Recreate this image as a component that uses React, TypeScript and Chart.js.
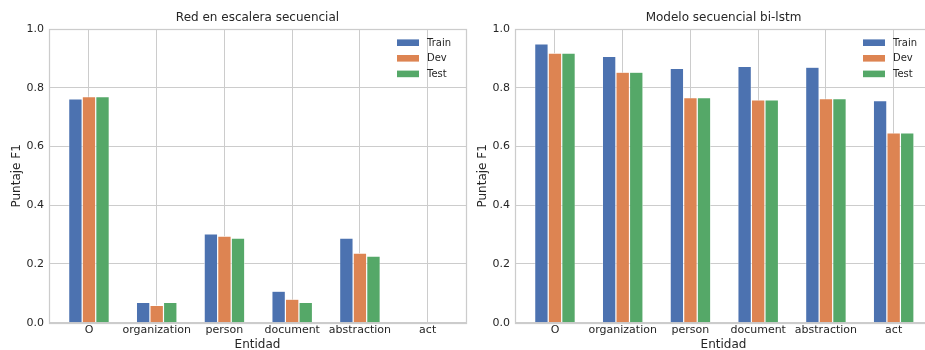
import React, { useEffect, useRef } from 'react';
import { Chart, registerables } from 'chart.js';

Chart.register(...registerables);

const categories = ['O', 'organization', 'person', 'document', 'abstraction', 'act'];
const seriesNames = ['Train', 'Dev', 'Test'];
const seriesColors = ['#4C72B0', '#DD8452', '#55A868'];

const leftTrain = [0.762, 0.069, 0.302, 0.107, 0.288, 0];
const leftDev = [0.770, 0.059, 0.295, 0.080, 0.237, 0];
const leftTest = [0.770, 0.069, 0.288, 0.069, 0.227, 0];

const rightTrain = [0.949, 0.907, 0.866, 0.873, 0.870, 0.756];
const rightDev = [0.918, 0.853, 0.766, 0.759, 0.763, 0.646];
const rightTest = [0.918, 0.853, 0.766, 0.759, 0.763, 0.646];

const yTicks = [0, 0.2, 0.4, 0.6, 0.8, 1.0];

const FONT = '"DejaVu Sans", sans-serif';
const TEXT = '#262626';
const GRID = '#cccccc';

const framePlugin = {
  id: 'frame',
  afterDatasetsDraw(chart: any) {
    const { ctx, chartArea: a } = chart;
    ctx.save();
    ctx.strokeStyle = GRID;
    ctx.lineWidth = 1.25;
    ctx.strokeRect(Math.round(a.left) + 0.5, Math.round(a.top) + 0.5, Math.round(a.right - a.left), Math.round(a.bottom - a.top));
    ctx.restore();
  },
};

const titlePlugin = {
  id: 'areaTitle',
  afterDraw(chart: any, _args: any, opts: any) {
    const { ctx, chartArea: a } = chart;
    ctx.save();
    ctx.fillStyle = TEXT;
    ctx.font = `12px ${FONT}`;
    ctx.textAlign = 'center';
    ctx.textBaseline = 'middle';
    ctx.fillText(opts.text, (a.left + a.right) / 2, 17.5);
    ctx.restore();
  },
};

const legendPlugin = {
  id: 'innerLegend',
  afterDraw(chart: any) {
    const { ctx, chartArea: a } = chart;
    ctx.save();
    chart.data.datasets.forEach((ds: any, i: number) => {
      const cy = a.top + 13.7 + i * 15.6;
      ctx.fillStyle = ds.backgroundColor;
      ctx.fillRect(a.right - 69, cy - 3.3, 22, 6.6);
      ctx.fillStyle = TEXT;
      ctx.font = `10px ${FONT}`;
      ctx.textBaseline = 'middle';
      ctx.textAlign = 'left';
      ctx.fillText(ds.label, a.right - 39, cy + 0.5);
    });
    ctx.restore();
  },
};

function BarPanel({ title, series }: { title: string; series: number[][] }) {
  const ref = useRef<HTMLCanvasElement>(null);
  useEffect(() => {
    const chart = new Chart(ref.current as HTMLCanvasElement, {
      type: 'bar',
      data: {
        datasets: series.map((vals, k) => ({
          label: seriesNames[k],
          data: vals.map((v, i) => ({ x: i, y: v })),
          backgroundColor: seriesColors[k],
          borderColor: '#ffffff',
          borderWidth: 0.6,
          borderSkipped: 'start',
          categoryPercentage: 0.6,
          barPercentage: 1,
        })),
      } as any,
      options: {
        responsive: false,
        animation: false,
        devicePixelRatio: 1,
        layout: { padding: { left: 0, right: 4, top: 29, bottom: 0 } },
        plugins: {
          legend: { display: false },
          tooltip: { enabled: false },
          title: { display: false },
          areaTitle: { text: title },
        },
        scales: {
          x: {
            type: 'linear',
            min: -0.59,
            max: 5.566,
            offset: false,
            afterBuildTicks: (s: any) => {
              s.ticks = categories.map((_, i) => ({ value: i }));
            },
            afterFit: (s: any) => {
              s.height = 29.3;
            },
            ticks: {
              autoSkip: false,
              maxRotation: 0,
              minRotation: 0,
              padding: 1,
              color: TEXT,
              font: { family: FONT, size: 11 },
              callback: (v: any) => categories[Math.round(Number(v))] ?? '',
            },
            grid: { color: GRID, lineWidth: 1, drawTicks: false, offset: false },
            border: { display: false },
            title: {
              display: true,
              text: 'Entidad',
              color: TEXT,
              font: { family: FONT, size: 12 },
              padding: { top: 0, bottom: 0 },
            },
          },
          y: {
            type: 'linear',
            min: 0,
            max: 1,
            afterBuildTicks: (s: any) => {
              s.ticks = yTicks.map((v) => ({ value: v }));
            },
            afterFit: (s: any) => {
              s.width = 49;
            },
            ticks: {
              padding: 5,
              color: TEXT,
              font: { family: FONT, size: 11 },
              callback: (v: any) => Number(v).toFixed(1),
            },
            grid: { color: GRID, lineWidth: 1, drawTicks: false },
            border: { display: false },
            title: {
              display: true,
              text: 'Puntaje F1',
              color: TEXT,
              font: { family: FONT, size: 12 },
              padding: { top: 10, bottom: 0 },
            },
          },
        },
      } as any,
      plugins: [framePlugin, legendPlugin, titlePlugin],
    });
    return () => chart.destroy();
  }, []);
  return <canvas ref={ref} width={470} height={352} style={{ display: 'block' }} />;
}

export default function App() {
  return (
    <div
      style={{
        position: 'fixed',
        left: 0,
        top: 0,
        width: 925,
        height: 350,
        overflow: 'hidden',
        background: '#ffffff',
      }}
    >
      <div style={{ position: 'absolute', left: 0, top: 0 }}>
        <BarPanel title="Red en escalera secuencial" series={[leftTrain, leftDev, leftTest]} />
      </div>
      <div style={{ position: 'absolute', left: 466, top: 0 }}>
        <BarPanel title="Modelo secuencial bi-lstm" series={[rightTrain, rightDev, rightTest]} />
      </div>
    </div>
  );
}
